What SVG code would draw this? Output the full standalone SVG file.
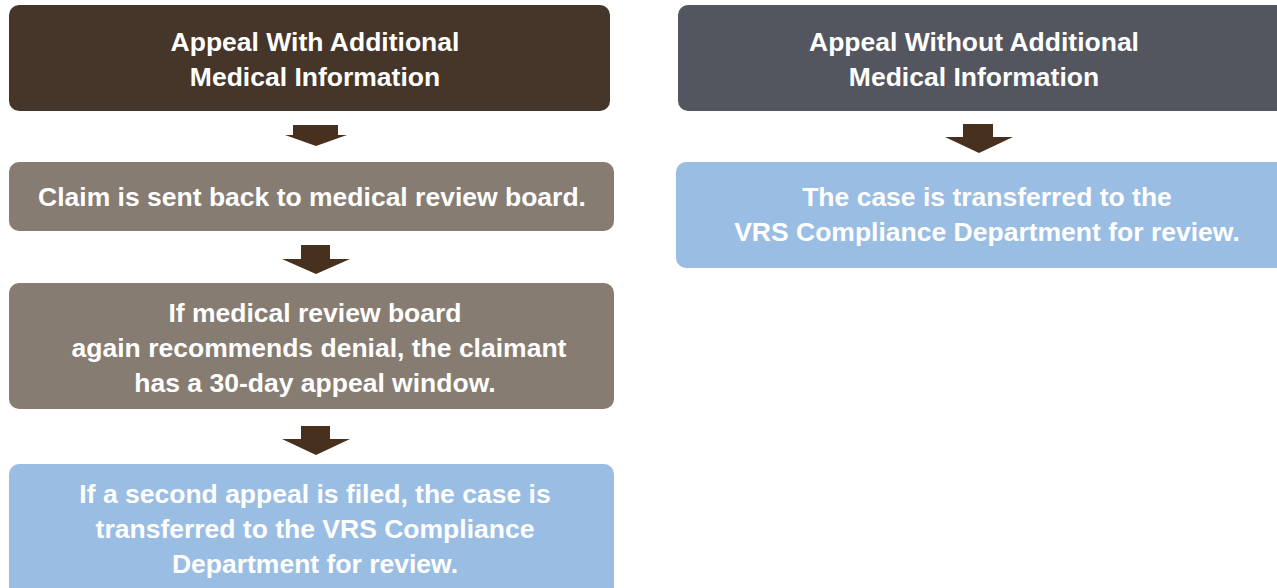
<svg xmlns="http://www.w3.org/2000/svg" width="1277" height="588" viewBox="0 0 1277 588">
<style>
.t{font-family:"Liberation Sans",Arial,sans-serif;font-weight:bold;font-size:26.5px;fill:#ffffff;text-anchor:middle}
.dk{fill:#463629}
.gr{fill:#877c72}
.bl{fill:#9abde3}
.sl{fill:#53565f}
.ar{fill:#47301e}
</style>
<rect width="1277" height="588" fill="#ffffff"/>
<g id="n1"><rect class="dk" x="9" y="5" width="601" height="106" rx="10"/>
<text class="t" x="315" y="51">Appeal With Additional</text>
<text class="t" x="315" y="86">Medical Information</text></g>
<g id="n2"><rect class="gr" x="9" y="162" width="605" height="69" rx="10"/>
<text class="t" x="312" y="206">Claim is sent back to medical review board.</text></g>
<g id="n3"><rect class="gr" x="9" y="283" width="605" height="126" rx="10"/>
<text class="t" x="315" y="322">If medical review board</text>
<text class="t" x="319" y="357">again recommends denial, the claimant</text>
<text class="t" x="315" y="392">has a 30-day appeal window.</text></g>
<g id="n4"><rect class="bl" x="9" y="464" width="605" height="134" rx="10"/>
<text class="t" x="315" y="503">If a second appeal is filed, the case is</text>
<text class="t" x="315" y="538">transferred to the VRS Compliance</text>
<text class="t" x="315" y="573">Department for review.</text></g>
<g id="n5"><rect class="sl" x="678" y="5" width="610" height="106" rx="10"/>
<text class="t" x="974" y="51">Appeal Without Additional</text>
<text class="t" x="974" y="86">Medical Information</text></g>
<g id="n6"><rect class="bl" x="676" y="162" width="612" height="106" rx="10"/>
<text class="t" x="987" y="206">The case is transferred to the</text>
<text class="t" x="987" y="241">VRS Compliance Department for review.</text></g>
<g id="connectors">
<polygon class="ar" points="293,125 338,125 338,135 347,135 316,146 285,135 293,135"/>
<polygon class="ar" points="301,245 330,245 330,259 350,259 316,274 282,259 301,259"/>
<polygon class="ar" points="301,426 330,426 330,439 350,439 316,455 282,439 301,439"/>
<polygon class="ar" points="963,124 993,124 993,137 1013,137 979,153 945,137 963,137"/>
</g>
</svg>
